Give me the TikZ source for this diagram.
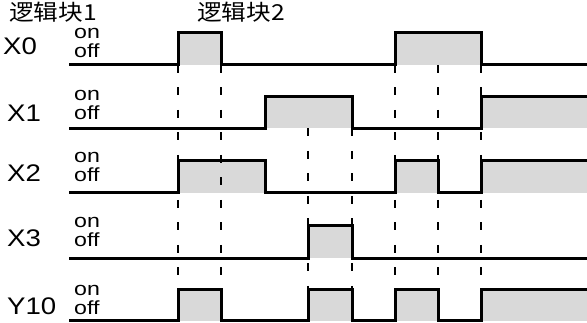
\documentclass[tikz,border=0pt]{standalone}
\usepackage{fontspec}
\setmainfont{Liberation Sans}
\newfontfamily\cjk{Noto Sans CJK SC}
\begin{document}
\begin{tikzpicture}[x=1pt,y=-1pt,
  sig/.style={line width=3pt,line join=miter,line cap=butt},
  pulse/.style={fill=black!15,draw=none},
  guide/.style={line width=2.4pt,dash pattern=on 8pt off 14.5pt},
  lab/.style={font=\fontsize{24}{24}\selectfont,anchor=base west,inner sep=0pt,xscale=1.15},
  st/.style={font=\fontsize{19}{19}\selectfont,anchor=base west,inner sep=0pt,xscale=1.22},
  ttl/.style={font=\cjk\fontsize{22}{22}\selectfont,anchor=base west,inner sep=0pt,xscale=1.12}]
\useasboundingbox (0,0) rectangle (587,323);
% titles
\node[ttl] (t1) at (9,21) {逻辑块1};
\node[ttl] (t2) at (197,21) {逻辑块2};
% row labels
\node[lab] (lX0) at (3,55) {X0};
\node[lab] (lX1) at (7,122) {X1};
\node[lab] (lX2) at (7,182) {X2};
\node[lab] (lX3) at (7,247) {X3};
\node[lab] (lY10) at (7,315) {Y10};
\foreach \n/\b in {0/58,1/120,2/182,3/247,4/315}{
  \node[st] (on\n) at (74,\b-19) {on};
  \node[st] (off\n) at (74,\b) {off};
}
% fills
\fill[pulse] (178,65) rectangle (221,33);
\fill[pulse] (395,65) rectangle (481,33);
\fill[pulse] (265,128.5) rectangle (352,97);
\fill[pulse] (481,128.5) rectangle (587,97);
\fill[pulse] (178,193) rectangle (265,161);
\fill[pulse] (395,193) rectangle (438,161);
\fill[pulse] (481,193) rectangle (587,161);
\fill[pulse] (308,258.5) rectangle (352,226);
\fill[pulse] (178,321) rectangle (221,290);
\fill[pulse] (308,321) rectangle (352,290);
\fill[pulse] (395,321) rectangle (438,290);
\fill[pulse] (481,321) rectangle (587,290);
% waveforms
\draw[sig] (69,65) -- (178,65) |- (221,33) |- (395,65) |- (481,33) |- (587,65);
\draw[sig] (69,128.5) -- (265,128.5) |- (352,97) |- (481,128.5) |- (587,97);
\draw[sig] (69,193) -- (178,193) |- (265,161) |- (395,193) |- (438,161) |- (481,193) |- (587,161);
\draw[sig] (69,258.5) -- (308,258.5) |- (352,226) |- (587,258.5);
\draw[sig] (69,321) -- (178,321) |- (221,290) |- (308,321) |- (352,290) |- (395,321) |- (438,290) |- (481,321) |- (587,290);
% guide lines
\foreach \x in {178,221,395,438,481}{
  \coordinate (g\x a) at (\x,65);
  \coordinate (g\x b) at (\x,321);
  \draw[guide] (g\x a) -- (g\x b);
}
\foreach \x in {308,352}{
  \coordinate (g\x a) at (\x,128.5);
  \coordinate (g\x b) at (\x,321);
  \draw[guide] (g\x a) -- (g\x b);
}
\end{tikzpicture}
\end{document}
